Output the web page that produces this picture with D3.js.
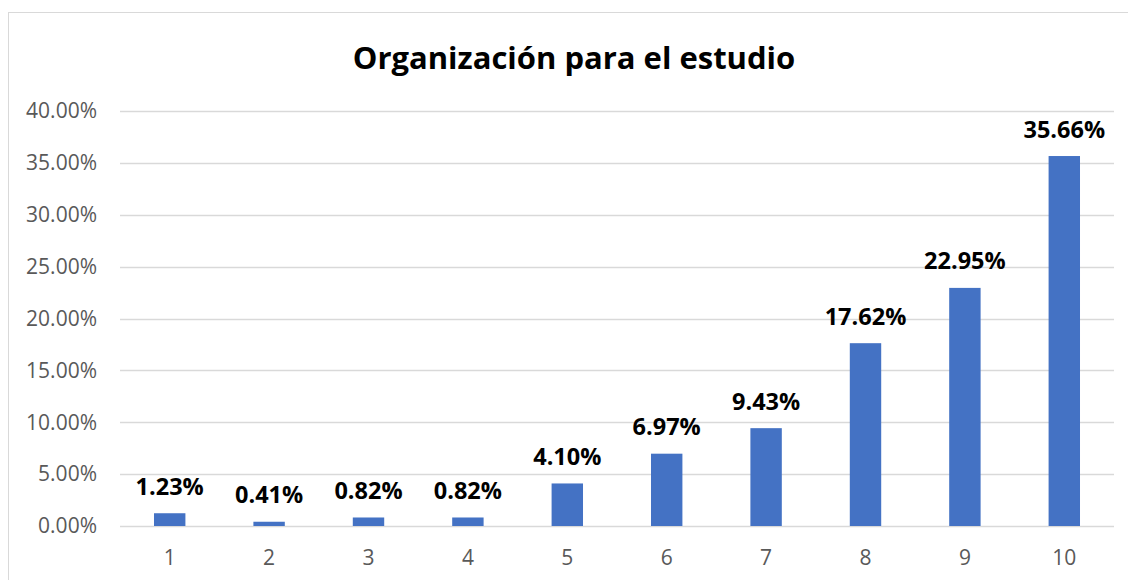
<!DOCTYPE html>
<html lang="es">
<head>
  <meta charset="utf-8">
  <script src="https://d3js.org/d3.v7.min.js"></script>
  <style>
    body { margin: 0; background: #fff; }
    svg { display: block; font-family: "Open Sans", "Liberation Sans", sans-serif; }
  </style>
</head>
<body>
  <svg></svg>
  <script>
    // chart data
    var categories = ['1', '2', '3', '4', '5', '6', '7', '8', '9', '10'];
    var values = [1.23, 0.41, 0.82, 0.82, 4.10, 6.97, 9.43, 17.62, 22.95, 35.66];
    var yTicks = [0, 5, 10, 15, 20, 25, 30, 35, 40];
    var title = 'Organización para el estudio';

    var width = 1128, height = 580;
    var margin = { left: 120, right: 14, top: 111, bottom: 54 };

    var svg = d3.select('svg')
      .attr('width', width)
      .attr('height', height);

    // chart frame
    svg.append('rect')
      .attr('x', 8.5).attr('y', 12.5)
      .attr('width', width).attr('height', height)
      .attr('fill', 'none')
      .attr('stroke', '#d9d9d9');

    var x = d3.scaleBand()
      .domain(categories)
      .range([margin.left, width - margin.right])
      .paddingInner(0.684)
      .paddingOuter(0.342);

    // 0% line sits at 526
    var y = d3.scaleLinear()
      .domain([0, 40])
      .range([526, margin.top]);

    // gridlines
    svg.append('g')
      .selectAll('line')
      .data(yTicks)
      .enter().append('line')
      .attr('x1', margin.left)
      .attr('x2', width - margin.right)
      .attr('y1', function (d) { return Math.round(y(d)) + 0.5; })
      .attr('y2', function (d) { return Math.round(y(d)) + 0.5; })
      .attr('stroke', '#d9d9d9')
      .attr('stroke-width', 1.3);

    // y axis labels
    svg.append('g')
      .selectAll('text')
      .data(yTicks)
      .enter().append('text')
      .attr('x', 97)
      .attr('y', function (d) { return y(d); })
      .attr('dy', '0.35em')
      .attr('text-anchor', 'end')
      .attr('fill', '#595959')
      .style('font-size', '21px')
      .text(function (d) { return d.toFixed(2) + '%'; });

    // x axis labels
    svg.append('g')
      .selectAll('text')
      .data(categories)
      .enter().append('text')
      .attr('x', function (d) { return x(d) + x.bandwidth() / 2; })
      .attr('y', 565)
      .attr('text-anchor', 'middle')
      .attr('fill', '#595959')
      .style('font-size', '21px')
      .text(function (d) { return d; });

    // bars
    svg.append('g')
      .selectAll('rect')
      .data(values)
      .enter().append('rect')
      .attr('x', function (d, i) { return x(categories[i]); })
      .attr('y', function (d) { return y(d); })
      .attr('width', x.bandwidth())
      .attr('height', function (d) { return y(0) - y(d); })
      .attr('fill', '#4472c4');

    // data labels
    svg.append('g')
      .selectAll('text')
      .data(values)
      .enter().append('text')
      .attr('x', function (d, i) { return x(categories[i]) + x.bandwidth() / 2; })
      .attr('y', function (d) { return y(d) - 18.5; })
      .attr('text-anchor', 'middle')
      .attr('fill', '#000')
      .style('font-size', '23.5px')
      .style('font-weight', 'bold')
      .text(function (d) { return d.toFixed(2) + '%'; });

    // title
    svg.append('text')
      .attr('x', 574)
      .attr('y', 69)
      .attr('text-anchor', 'middle')
      .attr('fill', '#000')
      .style('font-size', '31px')
      .style('font-weight', 'bold')
      .text(title);
  </script>
</body>
</html>
